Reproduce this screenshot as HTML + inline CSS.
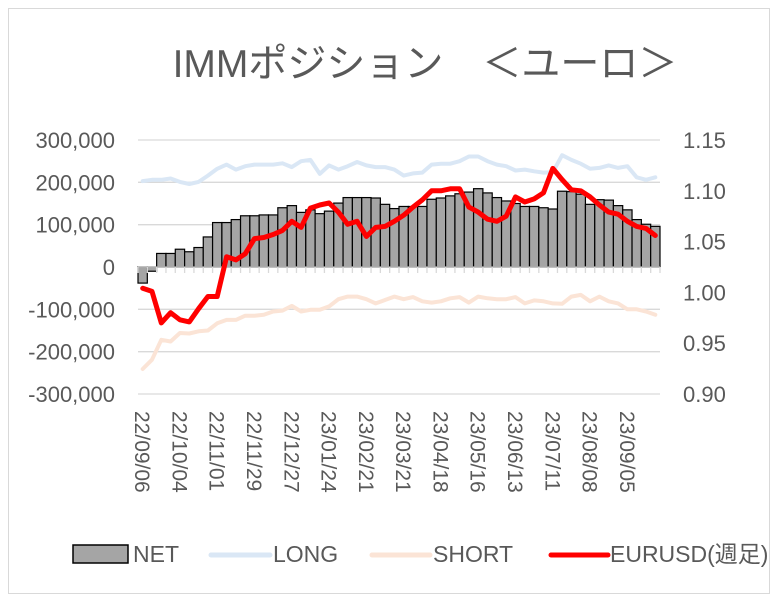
<!DOCTYPE html>
<html><head><meta charset="utf-8">
<style>
body{margin:0;background:#fff;}
svg text{font-family:"Liberation Sans","Noto Sans CJK JP",sans-serif;fill:#595959;}
</style></head>
<body>
<svg id="chart" width="779" height="602" viewBox="0 0 779 602" xmlns="http://www.w3.org/2000/svg">
<rect x="0" y="0" width="779" height="602" fill="#fff"/>
<rect x="8.5" y="8.5" width="761" height="585" fill="none" stroke="#d9d9d9" stroke-width="1"/>
<text x="425" y="77" font-size="39" text-anchor="middle">IMMポジション　＜ユーロ＞</text>
<g id="grid"></g>
<g id="bars"></g>
<g id="axis"></g>
<g id="lines"></g>
<g id="labels"></g>
<g>
  <rect x="73" y="545" width="55" height="18" fill="#a5a5a5" stroke="#000" stroke-width="1.5"/>
  <text x="133" y="562" font-size="23">NET</text>
  <line x1="211" y1="555" x2="270" y2="555" stroke="#dae7f5" stroke-width="5" stroke-linecap="round"/>
  <text x="273" y="562" font-size="23">LONG</text>
  <line x1="372" y1="555" x2="430" y2="555" stroke="#fbe4d6" stroke-width="5" stroke-linecap="round"/>
  <text x="433" y="562" font-size="23">SHORT</text>
  <line x1="551" y1="555" x2="608" y2="555" stroke="#ff0000" stroke-width="5" stroke-linecap="round"/>
  <text x="610" y="562" font-size="23">EURUSD(週足)</text>
</g>
</svg>
<script>
const startDate = "2022-09-06";
const netValues = [-38,-10,32,32,42,36,46,71,105,105,112,121,121,123,123,140,145,129,135,126,132,151,164,164,164,163,148,138,
 143,143,143,160,163,168,173,177,185,175,164,156,150,143,143,140,137,179,178,172,148,159,158,145,135,112,101,96];
const longValues = [203,206,206,209,201,196,201,216,232,242,230,238,242,242,242,245,236,250,253,220,240,230,238,248,240,236,236,230,
 216,221,223,242,244,244,250,261,261,250,242,238,228,230,226,223,224,264,253,244,232,234,240,234,238,212,206,212];
const shortValues = [-241,-219,-172,-176,-156,-157,-152,-150,-133,-125,-125,-115,-115,-113,-105,-103,-92,-105,-101,-101,-93,-76,-70,-70,-76,-86,-78,-70,
 -76,-71,-81,-84,-81,-74,-71,-84,-70,-74,-76,-76,-71,-86,-79,-81,-86,-87,-70,-66,-81,-70,-81,-86,-100,-100,-105,-113];
const eurValues = [1.004,1.001,0.970,0.980,0.973,0.971,0.984,0.996,0.996,1.035,1.032,1.038,1.053,1.054,1.057,1.061,1.070,1.064,1.083,1.086,1.088,1.079,1.067,1.070,1.055,1.064,1.065,1.070,
 1.076,1.084,1.091,1.100,1.100,1.102,1.102,1.084,1.079,1.072,1.070,1.075,1.094,1.089,1.092,1.098,1.122,1.111,1.101,1.100,1.094,1.086,1.079,1.077,1.070,1.065,1.063,1.056];
const leftTicks = [300,200,100,0,-100,-200,-300];
const leftTickLabels = ["300,000","200,000","100,000","0","-100,000","-200,000","-300,000"];
const rightTicks = [1.15,1.10,1.05,1.00,0.95,0.90];
const rightTickLabels = ["1.15","1.10","1.05","1.00","0.95","0.90"];

const NS="http://www.w3.org/2000/svg";
const X0=138, X1=660, TOP=140, BOT=394;
const n=netValues.length;
const bw=(X1-X0)/n;
const yL=v=>TOP+(300-v)/600*(BOT-TOP);
const yR=v=>TOP+(1.15-v)/0.25*(BOT-TOP);
const xC=i=>X0+bw*(i+0.5);
function mk(tag,attrs,parent){const e=document.createElementNS(NS,tag);for(const k in attrs)e.setAttribute(k,attrs[k]);document.getElementById(parent).appendChild(e);return e;}

leftTicks.forEach((t,i)=>{
  const g=mk('line',{x1:X0,x2:X1,y1:yL(t),y2:yL(t),stroke:'#d9d9d9','stroke-width':1.3},'grid');
  
  
  const tx=mk('text',{x:115,y:yL(t)+8,'font-size':22,'text-anchor':'end'},'labels');
  tx.textContent=leftTickLabels[i];
  
  
});
rightTicks.forEach((t,i)=>{
  const tx=mk('text',{x:683,y:yR(t)+8,'font-size':22},'labels');
  tx.textContent=rightTickLabels[i];
  
  
});
netValues.forEach((v,i)=>{
  const y=Math.min(yL(v),yL(0)), h=Math.abs(yL(v)-yL(0));
  const r=mk('rect',{x:X0+bw*i,y:y,width:bw,height:h,fill:'#a5a5a5',stroke:'#000','stroke-width':1.2},'bars');
  
  
});
const ax=mk('line',{x1:X0,x2:X1,y1:yL(0),y2:yL(0),stroke:'#bfbfbf','stroke-width':1.3},'axis');


for(let i=0;i<=n;i++){
  const t=mk('line',{x1:X0+bw*i,x2:X0+bw*i,y1:yL(0),y2:yL(0)+6,stroke:'#d9d9d9','stroke-width':1.3},'axis');
  
  
}
function line(vals,yf,color,w,name){
  const d=vals.map((v,i)=>(i?'L':'M')+xC(i).toFixed(1)+','+yf(v).toFixed(1)).join(' ');
  const p=mk('path',{d:d,fill:'none',stroke:color,'stroke-width':w,'stroke-linejoin':'round','stroke-linecap':'round'},'lines');
  
  
}
line(longValues,yL,'#dae7f5',4,'line-long');
line(shortValues,yL,'#fbe4d6',4,'line-short');
line(eurValues,yR,'#ff0000',5,'line-eurusd');
const sd=new Date(startDate+"T00:00:00Z");
for(let i=0;i<n;i+=4){
  const d=new Date(sd.getTime()+i*7*86400000);
  const s=String(d.getUTCFullYear()).slice(2)+'/'+String(d.getUTCMonth()+1).padStart(2,'0')+'/'+String(d.getUTCDate()).padStart(2,'0');
  const x=xC(i)-7.5, y=411;
  const tx=mk('text',{x:x,y:y,'font-size':21,transform:`rotate(90 ${x} ${y})`},'labels');
  tx.textContent=s;
  
  
}
</script>
</body></html>
